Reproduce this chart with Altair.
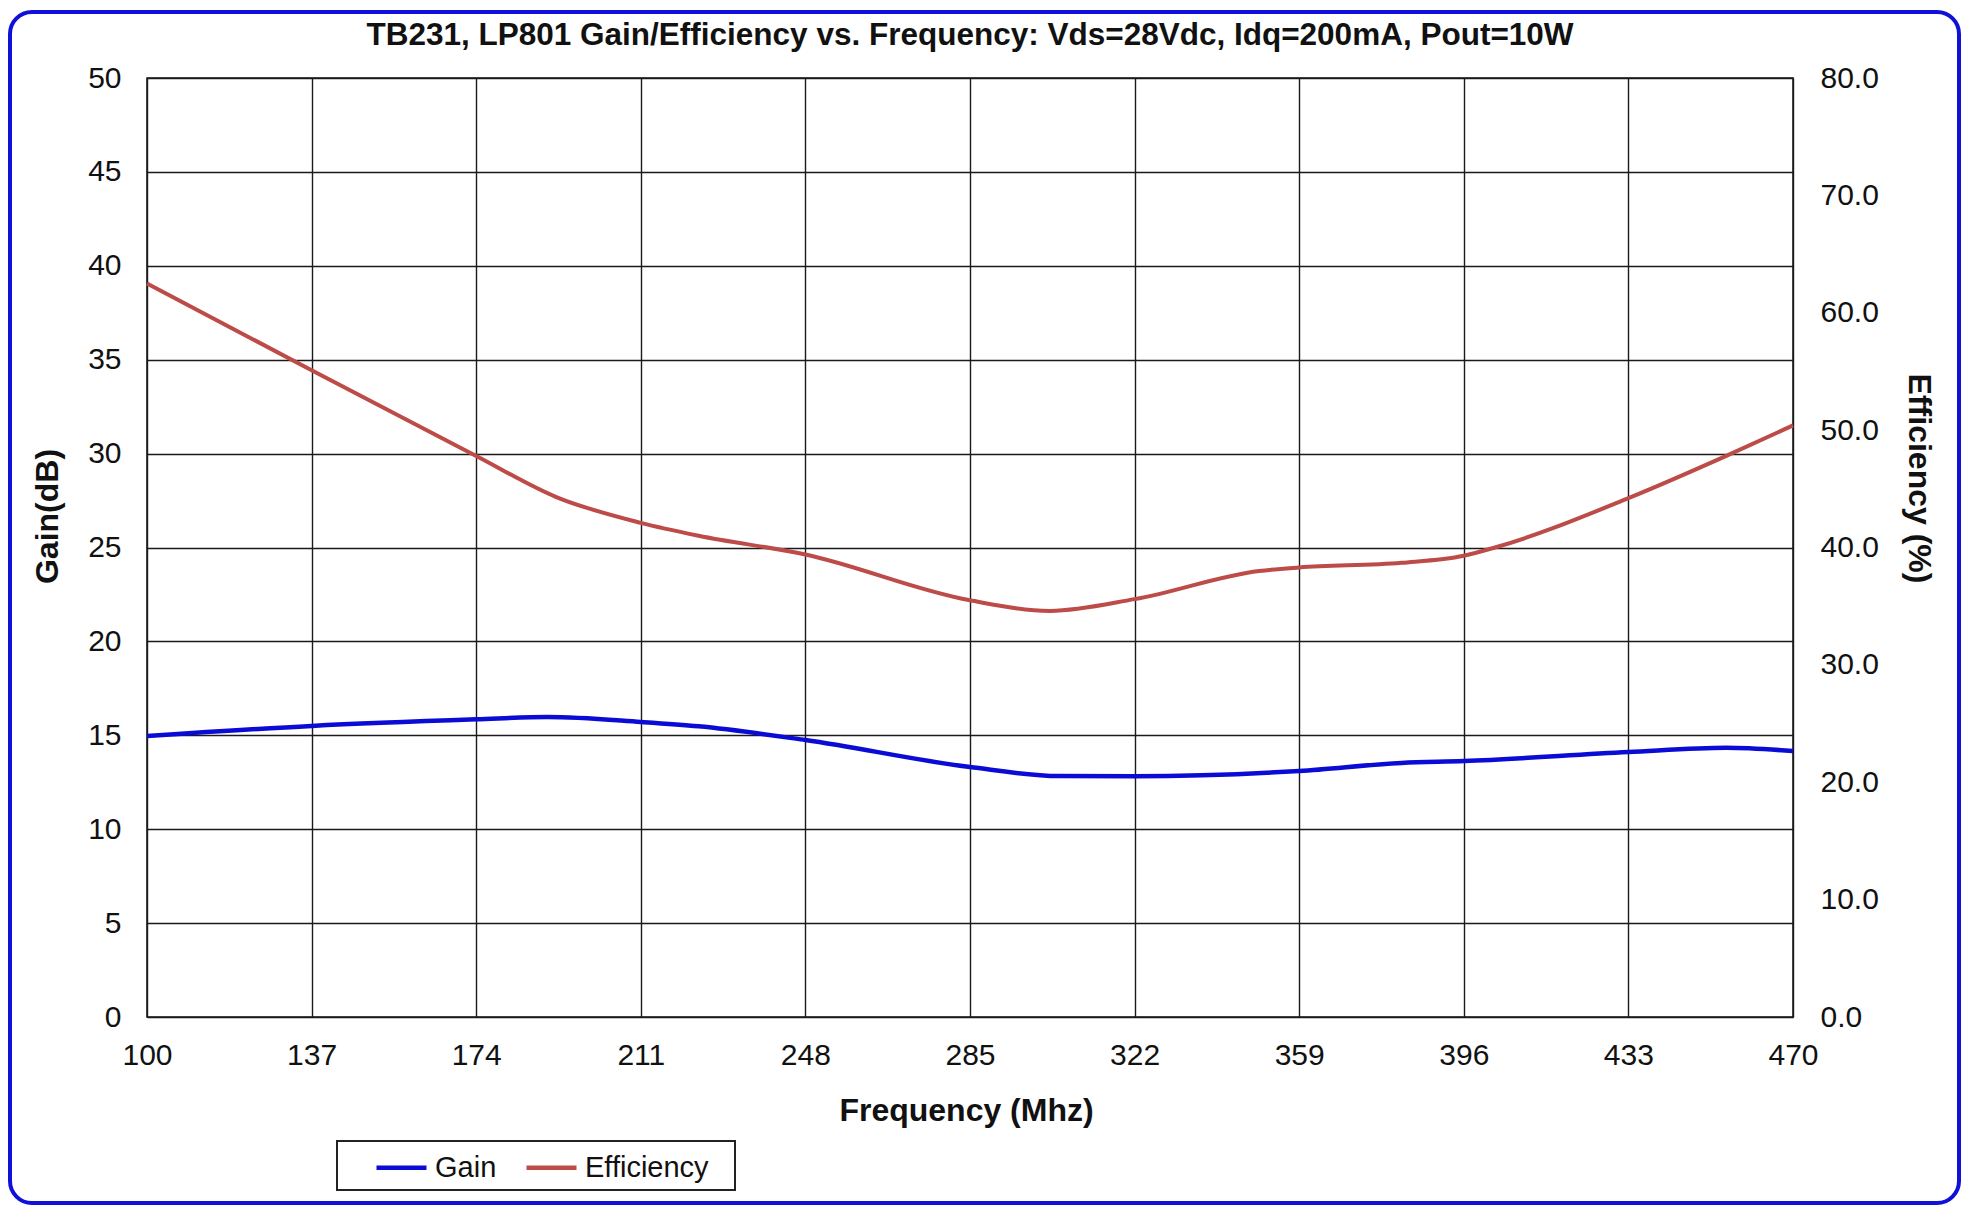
import altair as alt
import pandas as pd

# ---- data ----
gain_freq = [100, 137, 174, 190, 211, 224, 248, 285, 305, 322, 359, 382, 396, 433, 455, 470]
gain_db = [14.96, 15.5, 15.85, 15.97, 15.71, 15.48, 14.75, 13.31, 12.83, 12.82, 13.1, 13.53, 13.63, 14.11, 14.34, 14.16]

eff_freq = [100, 137, 174, 192, 211, 224, 248, 285, 303, 322, 350, 359, 382, 396, 403, 433, 455, 470]
eff_pct = [62.5, 55.1, 47.8, 44.3, 42.1, 41.0, 39.4, 35.5, 34.6, 35.6, 38.0, 38.3, 38.7, 39.3, 40.0, 44.2, 47.8, 50.4]

x_ticks = [100, 137, 174, 211, 248, 285, 322, 359, 396, 433, 470]
gain_ticks = [0, 5, 10, 15, 20, 25, 30, 35, 40, 45, 50]
eff_ticks = [0, 10, 20, 30, 40, 50, 60, 70, 80]
series_names = ["Gain", "Efficiency"]
series_colors = ["#0b0bd6", "#bd4b48"]

title_text = "TB231, LP801  Gain/Efficiency vs. Frequency: Vds=28Vdc, Idq=200mA, Pout=10W"

FONT = "Liberation Sans"
W, H = 1646, 939

gain_df = pd.DataFrame({"freq": gain_freq, "value": gain_db, "series": "Gain"})
eff_df = pd.DataFrame({"freq": eff_freq, "value": eff_pct, "series": "Efficiency"})

color_scale = alt.Scale(domain=series_names, range=series_colors)
x_scale = alt.Scale(domain=[100, 470], nice=False, zero=False)

x_enc = alt.X(
    "freq:Q",
    scale=x_scale,
    axis=alt.Axis(
        values=x_ticks, format="d", title="Frequency (Mhz)",
        titleX=819, titleY=93, titleBaseline="middle",
        labelPadding=23, labelFlush=False, tickSize=0, domain=False,
        gridColor="#1a1a1a", gridWidth=1.4,
    ),
)

gain_line = alt.Chart(gain_df).mark_line(
    interpolate="monotone", strokeWidth=4.5
).encode(
    x=x_enc,
    y=alt.Y(
        "value:Q",
        scale=alt.Scale(domain=[0, 50], nice=False),
        axis=alt.Axis(
            values=gain_ticks, format="d", title="Gain(dB)", orient="left",
            titleAngle=270, titleX=-100, titleY=438, titleAlign="center",
            titleBaseline="middle", labelPadding=26, tickSize=0, domain=False,
            gridColor="#1a1a1a", gridWidth=1.4,
        ),
    ),
    color=alt.Color(
        "series:N", scale=color_scale,
        legend=alt.Legend(
            orient="none", legendX=227, legendY=1062, direction="horizontal",
            title=None, symbolType="stroke", symbolSize=2500, symbolStrokeWidth=4.5,
            labelFontSize=29, labelFont=FONT, labelColor="#111", labelOffset=6,
            columnPadding=20, padding=0,
        ),
    ),
)

eff_line = alt.Chart(eff_df).mark_line(
    interpolate="monotone", strokeWidth=4
).encode(
    x=x_enc,
    y=alt.Y(
        "value:Q",
        scale=alt.Scale(domain=[0, 80], nice=False),
        axis=alt.Axis(
            values=eff_ticks, format=".1f", title="Efficiency (%)", orient="right",
            titleAngle=90, titleX=125, titleY=400, titleAlign="center",
            titleBaseline="middle", labelPadding=27, tickSize=0, domain=False,
            grid=False,
        ),
    ),
    color=alt.Color("series:N", scale=color_scale),
)

one = pd.DataFrame({"k": [0]})

legend_box = alt.Chart(one).mark_rect(
    filled=False, stroke="#222222", strokeWidth=2
).encode(
    x=alt.value(190), x2=alt.value(588), y=alt.value(1063), y2=alt.value(1112)
)

outer_border = alt.Chart(one).mark_rect(
    filled=False, stroke="#1010d8", strokeWidth=4, cornerRadius=22
).encode(
    x=alt.value(-137), x2=alt.value(1812), y=alt.value(-66), y2=alt.value(1125)
)

chart = alt.layer(
    gain_line, eff_line, legend_box, outer_border
).resolve_scale(
    y="independent"
).properties(
    width=W, height=H,
    title=alt.TitleParams(
        title_text, anchor="middle", fontSize=31.5, font=FONT, fontWeight="bold",
        color="#111", offset=-41, frame="group",
    ),
    autosize=alt.AutoSizeParams(type="none"),
    padding={"left": 139, "top": 70, "right": 168, "bottom": 188},
).configure(
    background="white",
).configure_view(
    stroke="#111111", strokeWidth=1.5,
).configure_axis(
    labelFont=FONT, labelFontSize=30, labelColor="#111",
    titleFont=FONT, titleFontSize=32, titleFontWeight="bold", titleColor="#111",
)

chart.save("out.html", embed_options={"renderer": "svg", "actions": False})
